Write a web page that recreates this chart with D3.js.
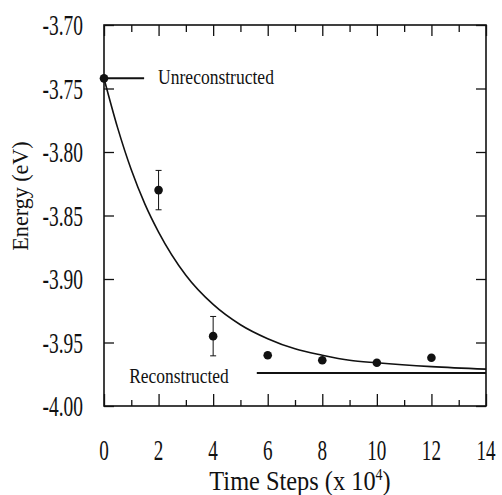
<!DOCTYPE html>
<html>
<head>
<meta charset="utf-8">
<script src="https://cdn.jsdelivr.net/npm/d3@7"></script>
<style>
  html, body { margin: 0; padding: 0; background: #fff; }
  svg { display: block; }
  svg text { font-family: "Liberation Serif", "Times New Roman", Times, serif; }
</style>
</head>
<body>
<svg id="chart" width="502" height="495"></svg>
<script>
// Simulated energy per time step (mean and error bar half-width)
const steps    = [0, 2, 4, 6, 8, 10, 12];
const energies = [-3.742, -3.830, -3.945, -3.960, -3.964, -3.966, -3.962];
const errors   = [0, 0.0155, 0.0155, 0, 0, 0, 0];

// Exponential relaxation fit, sampled along the time axis
const fitSteps    = [0, 0.5, 1, 1.5, 2, 3, 4, 5, 6, 7, 8, 9, 10, 12, 14];
const fitEnergies = [-3.742, -3.781, -3.814, -3.841, -3.863, -3.897, -3.920,
                     -3.936, -3.947, -3.955, -3.960, -3.964, -3.966, -3.969, -3.971];

// Reference energy levels of the two surface structures
const levelNames  = ["Unreconstructed", "Reconstructed"];
const levelValues = [-3.742, -3.974];
const levelFrom   = [0, 5.6];
const levelTo     = [1.47, 14];

// Axis ticks
const xTicks      = [0, 2, 4, 6, 8, 10, 12, 14];
const xMinorTicks = [1, 3, 5, 7, 9, 11, 13];
const yTicks      = [-3.70, -3.75, -3.80, -3.85, -3.90, -3.95, -4.00];

const svg = d3.select("#chart");
const m = { left: 104, right: 486, top: 25, bottom: 406 };

const x = d3.scaleLinear().domain([0, 14]).range([m.left, m.right]);
const y = d3.scaleLinear().domain([-4.00, -3.70]).range([m.bottom, m.top]);

const ink = "#111";

// Condensed serif text placed at (px, py)
function label(parent, px, py, str, size, sx, anchor, rot) {
  return parent.append("text")
    .attr("transform", `translate(${px},${py})${rot ? ` rotate(${rot})` : ""} scale(${sx},1)`)
    .style("font-size", size + "px")
    .attr("text-anchor", anchor)
    .attr("fill", ink)
    .text(str);
}

// Frame
svg.append("rect")
  .attr("x", m.left).attr("y", m.top)
  .attr("width", m.right - m.left).attr("height", m.bottom - m.top)
  .attr("fill", "none").attr("stroke", ink).attr("stroke-width", 1.6);

// Inward ticks on all four sides
function ticks(axis, pos, values, size) {
  svg.append("g").attr("transform", pos)
    .call(axis.tickValues(values).tickSize(-size).tickFormat(""))
    .call(g => g.select(".domain").remove())
    .selectAll("line").attr("stroke", ink).attr("stroke-width", 1.3);
}
ticks(d3.axisBottom(x), `translate(0,${m.bottom})`, xTicks, 12);
ticks(d3.axisBottom(x), `translate(0,${m.bottom})`, xMinorTicks, 6);
ticks(d3.axisTop(x), `translate(0,${m.top})`, xTicks, 11);
ticks(d3.axisTop(x), `translate(0,${m.top})`, xMinorTicks, 7);
ticks(d3.axisLeft(y), `translate(${m.left},0)`, yTicks, 10);
ticks(d3.axisRight(y), `translate(${m.right},0)`, yTicks, 10);

// Tick labels
const tickLabels = svg.append("g");
xTicks.forEach(t => label(tickLabels, x(t), 460, d3.format("d")(t), 29, 0.66, "middle"));
yTicks.forEach(t => label(tickLabels, 83, y(t) + 10, d3.format(".2f")(t).replace("−", "-"),
                          29, 0.67, "end"));

// Fitted curve
const fitData = fitSteps.map((s, i) => [s, fitEnergies[i]]);
svg.append("path")
  .datum(fitData)
  .attr("fill", "none").attr("stroke", ink).attr("stroke-width", 1.6)
  .attr("d", d3.line().x(d => x(d[0])).y(d => y(d[1])).curve(d3.curveMonotoneX));

// Reference levels with labels
levelNames.forEach((name, i) => {
  svg.append("line")
    .attr("x1", x(levelFrom[i])).attr("x2", x(levelTo[i]))
    .attr("y1", y(levelValues[i])).attr("y2", y(levelValues[i]))
    .attr("stroke", ink).attr("stroke-width", 2);
});
label(svg, x(levelTo[0]) + 14, y(levelValues[0]) + 6, levelNames[0], 21, 0.835, "start");
label(svg, x(levelFrom[1]) - 28, y(levelValues[1]) + 10, levelNames[1], 21, 0.83, "end");

// Error bars
const pts = steps.map((s, i) => ({ s, e: energies[i], err: errors[i] }));
const eb = svg.append("g").selectAll("g").data(pts.filter(d => d.err > 0)).join("g");
eb.append("line")
  .attr("x1", d => x(d.s)).attr("x2", d => x(d.s))
  .attr("y1", d => y(d.e - d.err)).attr("y2", d => y(d.e + d.err))
  .attr("stroke", ink).attr("stroke-width", 1);
eb.selectAll(".cap").data(d => [d.e - d.err, d.e + d.err].map(v => ({ s: d.s, v })))
  .join("line")
  .attr("x1", d => x(d.s) - 3).attr("x2", d => x(d.s) + 3)
  .attr("y1", d => y(d.v)).attr("y2", d => y(d.v))
  .attr("stroke", ink).attr("stroke-width", 1);

// Data points
svg.append("g").selectAll("circle").data(pts).join("circle")
  .attr("cx", d => x(d.s)).attr("cy", d => y(d.e))
  .attr("r", 4.3).attr("fill", ink);

// Axis titles
label(svg, 28, 196, "Energy (eV)", 23, 0.96, "middle", -90);

const xt = label(svg, 300, 490, "", 28, 0.87, "middle");
xt.append("tspan").text("Time Steps (x 10");
xt.append("tspan").style("font-size", "16px").attr("dy", -10).text("4");
xt.append("tspan").attr("dy", 10).text(")");
</script>
</body>
</html>
